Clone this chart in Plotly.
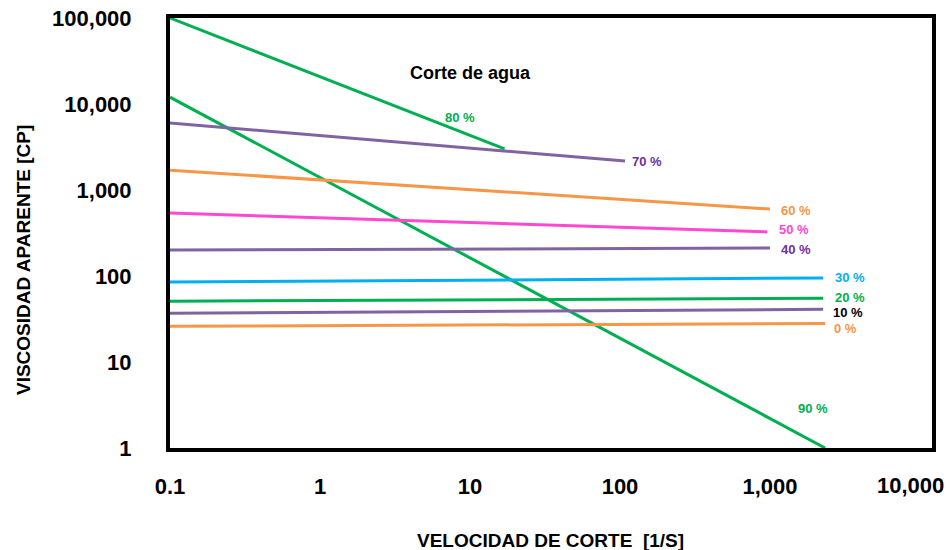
import math
import plotly.graph_objects as go

# Series: two end points each (x = shear rate [1/s], y = viscosity [cP])
series_names = ["80 %", "90 %", "70 %", "60 %", "50 %", "40 %", "30 %", "20 %", "10 %", "0 %"]
x_start = [0.1, 0.1, 0.1, 0.1, 0.1, 0.1, 0.1, 0.1, 0.1, 0.1]
x_end = [17, 2330, 108, 1000, 960, 1000, 2260, 2260, 2260, 2330]
y_start = [100000, 12000, 6000, 1700, 540, 200, 85, 51, 37, 26]
y_end = [3000, 1, 2170, 600, 325, 212, 95, 55, 41, 28]
line_colors = ["#00B050", "#00B050", "#8064A2", "#F79646", "#FF47D1", "#8064A2",
               "#00B0F0", "#00B050", "#8064A2", "#F79646"]

# Series labels
label_x = [8.6, 1935, 151, 1490, 1450, 1490, 3415, 3415, 3310, 3210]
label_y = [7060, 2.9, 2120, 585, 343, 206, 97, 56, 37.5, 24.8]
label_colors = ["#00B050", "#00B050", "#7030A0", "#F79646", "#FF47D1", "#7030A0",
                "#00B0F0", "#00B050", "#000000", "#F79646"]

x_tickvals = [0.1, 1, 10, 100, 1000]
x_ticktext = ["0.1", "1", "10", "100", "1,000"]
x_last_tick = 10000
x_last_text = "10,000"
y_tickvals = [1, 10, 100, 1000, 10000, 100000]
y_ticktext = ["1", "10", "100", "1,000", "10,000", "100,000"]

FONT = "Liberation Sans, Arial, sans-serif"

fig = go.Figure()
for i, name in enumerate(series_names):
    fig.add_trace(go.Scatter(
        x=[x_start[i], x_end[i]], y=[y_start[i], y_end[i]],
        mode="lines", name=name,
        line=dict(color=line_colors[i], width=3),
        showlegend=False, hoverinfo="skip"))

annotations = []
for i, name in enumerate(series_names):
    annotations.append(dict(
        x=math.log10(label_x[i]), y=math.log10(label_y[i]),
        xref="x", yref="y", text="<b>" + name + "</b>", showarrow=False,
        xanchor="center", yanchor="middle",
        font=dict(family=FONT, size=13, color=label_colors[i])))

# last x tick label, nudged left so that it stays inside the page
annotations.append(dict(x=math.log10(x_last_tick), y=-(485 - 448) / 430, xref="x", yref="paper",
                        text="<b>" + x_last_text + "</b>", showarrow=False,
                        xanchor="center", yanchor="middle", xshift=-10,
                        font=dict(family=FONT, size=22, color="#000000")))

annotations.append(dict(x=1, y=math.log10(22900), xref="x", yref="y",
                        text="<b>Corte de agua</b>", showarrow=False,
                        xanchor="center", yanchor="middle",
                        font=dict(family=FONT, size=18, color="#000000")))
annotations.append(dict(x=(550 - 170) / 762, y=-(540 - 448) / 430, xref="paper", yref="paper",
                        text="<b>VELOCIDAD DE CORTE  [1/S]</b>", showarrow=False,
                        xanchor="center", yanchor="middle",
                        font=dict(family=FONT, size=19, color="#000000")))
annotations.append(dict(x=-(170 - 23) / 762, y=(448 - 260) / 430, xref="paper", yref="paper",
                        text="<b>VISCOSIDAD APARENTE [CP]</b>", showarrow=False, textangle=-90,
                        xanchor="center", yanchor="middle",
                        font=dict(family=FONT, size=19, color="#000000")))

fig.update_layout(
    width=951, height=550,
    margin=dict(l=170, r=19, t=18, b=102, autoexpand=False),
    paper_bgcolor="white", plot_bgcolor="white",
    annotations=annotations,
    xaxis=dict(type="log", range=[-1, 4.08], tickvals=x_tickvals, ticktext=x_ticktext,
               showgrid=False, zeroline=False, showline=True, linecolor="black", linewidth=4,
               mirror=True, ticks="", ticklabelstandoff=16,
               automargin=False,
               tickfont=dict(family=FONT, size=22, color="black", weight="bold")),
    yaxis=dict(type="log", range=[0, 5], tickvals=y_tickvals, ticktext=y_ticktext,
               showgrid=False, zeroline=False, showline=True, linecolor="black", linewidth=4,
               mirror=True, ticks="", ticklabelstandoff=30,
               automargin=False,
               tickfont=dict(family=FONT, size=22, color="black", weight="bold")),
)

fig.write_html("out.html")
